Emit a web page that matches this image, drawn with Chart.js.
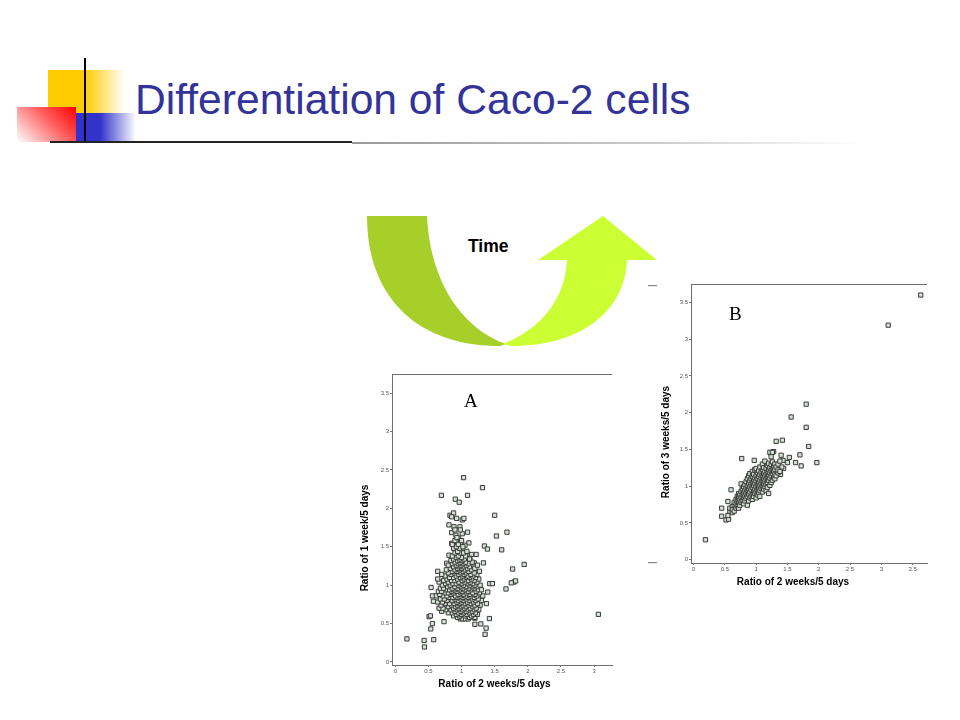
<!DOCTYPE html>
<html>
<head>
<meta charset="utf-8">
<script src="https://cdn.jsdelivr.net/npm/chart.js@4.4.0/dist/chart.umd.min.js"></script>
<style>
  body { margin: 0; background: #fff; }
  #slide { position: relative; width: 960px; height: 720px; overflow: hidden; background: #fff; }
  .abs { position: absolute; }
  #title { left: 135px; top: 75px; font-family: "Liberation Sans", Arial, sans-serif; font-size: 42.6px; color: #333399; white-space: nowrap; }
  #time { left: 468px; top: 236px; font-family: "Liberation Sans", Arial, sans-serif; font-weight: bold; font-size: 17.5px; color: #000; }
  .letter { font-family: "Liberation Serif", "Times New Roman", serif; font-size: 19px; color: #000; }
</style>
</head>
<body>
<div id="slide">
  <!-- decoration top left -->
  <div class="abs" style="left:48px;top:70px;width:77px;height:43px;background:linear-gradient(to right,#ffcc00 0%,#ffcc00 48%,#ffffff 100%);"></div>
  <div class="abs" style="left:17px;top:107px;width:59px;height:35px;background:linear-gradient(225deg,#ff0000 0%,#ff5a5a 40%,#ffffff 100%);"></div>
  <div class="abs" style="left:76px;top:113px;width:60px;height:29px;background:linear-gradient(to right,#3333cc 0%,#3333cc 40%,#ffffff 100%);"></div>
  <div class="abs" style="left:84px;top:58px;width:2px;height:85px;background:#000;"></div>
  <div class="abs" style="left:50px;top:141px;width:302px;height:2px;background:#222;"></div>
  <div class="abs" style="left:352px;top:142px;width:510px;height:2px;background:linear-gradient(to right,#999 0%,#ccc 60%,#fff 100%);"></div>
  <div id="title" class="abs">Differentiation of Caco-2 cells</div>

  <!-- arrow -->
  <svg class="abs" style="left:0;top:0" width="960" height="720">
    <path d="M367,216 L427,216 C430,285 465,330 506,344 L500,346 C420,346 367,300 367,216 Z" fill="#a6cf2a"/>
    <path d="M502,344 C540,330 565,300 567,260 L538,260 L603,216 L657,260 L627,260 C625,312 580,346 512,346 Z" fill="#ccff33"/>
    <rect x="648" y="285" width="9" height="1.2" fill="#888"/>
    <rect x="648" y="562" width="9" height="1.2" fill="#888"/>
  </svg>
  <div id="time" class="abs">Time</div>

  <div class="abs" style="left:355px;top:368px;width:262px;height:330px;"><canvas id="chartA"></canvas></div>
  <div class="abs" style="left:655px;top:278px;width:277px;height:312px;"><canvas id="chartB"></canvas></div>
  <div class="abs letter" style="left:464px;top:390px;">A</div>
  <div class="abs letter" style="left:729px;top:303px;">B</div>
</div>

<script>
// tick labels used by both plots
const tickValues = [0, 0.5, 1, 1.5, 2, 2.5, 3, 3.5];

// Plot A: x = ratio 2 weeks/5 days, y = ratio 1 week/5 days
const outliersA = [
  [0.175, 0.30], [0.435, 0.28], [0.44, 0.195], [0.58, 0.29], [0.535, 0.43], [0.56, 0.50],
  [0.51, 0.59], [0.53, 0.60], [0.56, 0.86], [0.575, 0.79], [0.54, 0.97], [0.64, 1.18],
  [0.735, 0.525], [0.695, 2.17], [1.03, 2.40], [1.315, 2.27], [1.09, 2.17], [0.905, 2.12],
  [0.965, 2.08], [1.50, 1.91], [1.685, 1.69], [1.525, 1.64], [1.605, 1.46], [1.345, 1.51],
  [1.39, 1.47], [1.33, 1.29], [1.945, 1.27], [1.77, 1.21], [1.79, 1.04], [1.75, 1.03],
  [1.815, 1.055], [1.67, 0.95], [1.425, 1.02], [1.465, 1.02], [1.395, 0.91], [1.375, 0.76],
  [1.42, 0.565], [1.29, 0.495], [1.37, 0.44], [1.355, 0.36], [3.065, 0.62], [1.20, 0.49],
  [1.20, 0.57], [1.19, 1.29], [1.22, 1.40], [1.09, 1.69], [1.11, 1.55]
];
const upperA = [
  [0.825, 1.91], [0.88, 1.94], [0.85, 1.89], [0.925, 1.87], [1.01, 1.85], [1.035, 1.87],
  [0.81, 1.785], [0.885, 1.76], [0.975, 1.76], [0.85, 1.685], [0.915, 1.65], [1.01, 1.67],
  [0.955, 1.61], [0.85, 1.545], [0.925, 1.57], [0.99, 1.545], [1.05, 1.52], [0.90, 1.47],
  [0.965, 1.46], [1.015, 1.43], [1.10, 1.40], [1.15, 1.40], [0.81, 1.39], [0.89, 1.37],
  [1.125, 1.35], [0.775, 1.285], [0.875, 1.31]
];
const clusterA = [
  [0.98, 0.56], [1.02, 0.56], [1.06, 0.56], [1.10, 0.56],
  [0.94, 0.58], [1.12, 0.58], [1.20, 0.58],
  [0.88, 0.60], [0.97, 0.60], [1.05, 0.60], [1.15, 0.60],
  [0.92, 0.62], [1.00, 0.62], [1.08, 0.62], [1.18, 0.62], [1.24, 0.62],
  [0.80, 0.64], [0.86, 0.64], [0.95, 0.64], [1.03, 0.64], [1.12, 0.64], [1.21, 0.64],
  [0.70, 0.66], [0.90, 0.66], [0.99, 0.66], [1.07, 0.66], [1.16, 0.66],
  [0.76, 0.68], [0.84, 0.68], [0.93, 0.68], [1.01, 0.68], [1.10, 0.68], [1.19, 0.68], [1.26, 0.68],
  [0.66, 0.70], [0.72, 0.70], [0.88, 0.70], [0.96, 0.70], [1.04, 0.70], [1.13, 0.70], [1.22, 0.70],
  [0.80, 0.72], [0.91, 0.72], [0.99, 0.72], [1.07, 0.72], [1.17, 0.72],
  [0.69, 0.74], [0.85, 0.74], [0.94, 0.74], [1.02, 0.74], [1.11, 0.74], [1.20, 0.74], [1.28, 0.74],
  [0.75, 0.76], [0.82, 0.76], [0.89, 0.76], [0.97, 0.76], [1.05, 0.76], [1.14, 0.76], [1.24, 0.76],
  [0.64, 0.78], [0.71, 0.78], [0.93, 0.78], [1.00, 0.78], [1.09, 0.78], [1.18, 0.78],
  [0.78, 0.80], [0.86, 0.80], [0.95, 0.80], [1.03, 0.80], [1.12, 0.80], [1.21, 0.80], [1.30, 0.80],
  [0.68, 0.82], [0.74, 0.82], [0.90, 0.82], [0.99, 0.82], [1.07, 0.82], [1.16, 0.82], [1.25, 0.82],
  [0.81, 0.84], [0.87, 0.84], [0.94, 0.84], [1.02, 0.84], [1.10, 0.84], [1.19, 0.84],
  [0.62, 0.86], [0.72, 0.86], [0.78, 0.86], [0.91, 0.86], [0.98, 0.86], [1.06, 0.86], [1.14, 0.86], [1.23, 0.86], [1.32, 0.86],
  [0.67, 0.88], [0.84, 0.88], [0.95, 0.88], [1.03, 0.88], [1.12, 0.88], [1.20, 0.88],
  [0.75, 0.90], [0.80, 0.90], [0.88, 0.90], [0.99, 0.90], [1.08, 0.90], [1.17, 0.90], [1.27, 0.90],
  [0.65, 0.92], [0.70, 0.92], [0.85, 0.92], [0.93, 0.92], [1.01, 0.92], [1.10, 0.92], [1.22, 0.92],
  [0.77, 0.94], [0.82, 0.94], [0.89, 0.94], [0.97, 0.94], [1.05, 0.94], [1.14, 0.94], [1.25, 0.94], [1.30, 0.94],
  [0.68, 0.96], [0.73, 0.96], [0.86, 0.96], [0.94, 0.96], [1.02, 0.96], [1.11, 0.96], [1.19, 0.96],
  [0.79, 0.98], [0.90, 0.98], [0.99, 0.98], [1.07, 0.98], [1.16, 0.98], [1.24, 0.98],
  [0.71, 1.00], [0.83, 1.00], [0.95, 1.00], [1.03, 1.00], [1.12, 1.00], [1.20, 1.00], [1.28, 1.00],
  [0.76, 1.02], [0.87, 1.02], [0.92, 1.02], [1.00, 1.02], [1.09, 1.02], [1.17, 1.02],
  [0.66, 1.04], [0.80, 1.04], [0.96, 1.04], [1.05, 1.04], [1.13, 1.04], [1.23, 1.04],
  [0.73, 1.06], [0.85, 1.06], [0.90, 1.06], [1.01, 1.06], [1.10, 1.06], [1.19, 1.06],
  [0.64, 1.08], [0.78, 1.08], [0.94, 1.08], [1.04, 1.08], [1.15, 1.08], [1.26, 1.08],
  [0.82, 1.10], [0.88, 1.10], [0.98, 1.10], [1.07, 1.10], [1.12, 1.10], [1.21, 1.10],
  [0.75, 1.12], [0.92, 1.12], [1.01, 1.12], [1.09, 1.12], [1.17, 1.12],
  [0.70, 1.14], [0.84, 1.14], [0.96, 1.14], [1.04, 1.14], [1.14, 1.14], [1.23, 1.14],
  [0.80, 1.16], [0.89, 1.16], [0.99, 1.16], [1.07, 1.16], [1.19, 1.16],
  [0.86, 1.18], [0.93, 1.18], [1.02, 1.18], [1.11, 1.18], [1.27, 1.18],
  [0.77, 1.20], [0.90, 1.20], [0.97, 1.20], [1.05, 1.20], [1.15, 1.20],
  [0.83, 1.22], [0.94, 1.22], [1.00, 1.22], [1.09, 1.22], [1.20, 1.22],
  [0.88, 1.24], [0.96, 1.24], [1.03, 1.24], [1.12, 1.24],
  [0.80, 1.26], [0.92, 1.26], [0.99, 1.26], [1.07, 1.26], [1.24, 1.26],
  [0.86, 1.28], [0.95, 1.28], [1.02, 1.28], [1.10, 1.28],
  [0.90, 1.30], [0.98, 1.30], [1.06, 1.30], [1.16, 1.30],
  [0.84, 1.32], [0.94, 1.32], [1.01, 1.32],
  [0.88, 1.34], [0.97, 1.34], [1.04, 1.34], [1.12, 1.34],
  [0.92, 1.36], [1.00, 1.36],
  [0.86, 1.38], [0.95, 1.38], [1.06, 1.38],
  [0.90, 1.42], [0.98, 1.42], [1.03, 1.42],
  [0.94, 1.44], [1.08, 1.44],
  [0.88, 1.48], [0.97, 1.48],
  [0.92, 1.50], [1.02, 1.50],
  [0.95, 1.53], [0.86, 1.53],
  [0.90, 1.58], [1.00, 1.58],
  [0.93, 1.62],
  [0.90, 1.72], [0.98, 1.72]
];

// Plot B: x = ratio 2 weeks/5 days, y = ratio 3 weeks/5 days
const outliersB = [
  [3.63, 3.60], [3.11, 3.19], [0.19, 0.27], [0.45, 0.70], [0.45, 0.59], [0.52, 0.54],
  [0.56, 0.55], [0.55, 0.60], [0.55, 0.79], [0.60, 0.95], [0.77, 1.375], [1.80, 2.115],
  [1.56, 1.94], [1.80, 1.80], [1.84, 1.54], [1.97, 1.32], [1.72, 1.275], [1.70, 1.425],
  [1.63, 1.32], [1.53, 1.39], [1.50, 1.32], [1.42, 1.625], [1.32, 1.61], [1.28, 1.47],
  [1.235, 1.45], [1.40, 1.42], [1.43, 1.35], [1.44, 1.24], [1.41, 1.26], [1.38, 1.18],
  [1.39, 1.16], [0.97, 1.35], [0.98, 1.225]
];
const clusterB = [
  [0.58, 0.66], [0.58, 0.70],
  [0.62, 0.64], [0.62, 0.72], [0.62, 0.68],
  [0.65, 0.66], [0.65, 0.74], [0.65, 0.78],
  [0.68, 0.70], [0.68, 0.76], [0.68, 0.82],
  [0.70, 0.73], [0.70, 0.86], [0.70, 0.79],
  [0.72, 0.70], [0.72, 0.77], [0.72, 0.90], [0.72, 0.84],
  [0.74, 0.74], [0.74, 0.81], [0.74, 0.88],
  [0.76, 0.78], [0.76, 0.85], [0.76, 0.93], [0.76, 1.03],
  [0.78, 0.80], [0.78, 0.88], [0.78, 0.96],
  [0.80, 0.76], [0.80, 0.84], [0.80, 0.91], [0.80, 0.99],
  [0.82, 0.80], [0.82, 0.87], [0.82, 0.94], [0.82, 1.02],
  [0.84, 0.83], [0.84, 0.90], [0.84, 0.97], [0.84, 1.06],
  [0.86, 0.74], [0.86, 0.86], [0.86, 0.93], [0.86, 1.00], [0.86, 1.10],
  [0.88, 0.80], [0.88, 0.89], [0.88, 0.96], [0.88, 1.04], [0.88, 1.14],
  [0.90, 0.84], [0.90, 0.92], [0.90, 0.99], [0.90, 1.07], [0.90, 1.17],
  [0.92, 0.86], [0.92, 0.95], [0.92, 1.02], [0.92, 1.10],
  [0.94, 0.82], [0.94, 0.89], [0.94, 0.98], [0.94, 1.05], [0.94, 1.13], [0.94, 1.20],
  [0.96, 0.86], [0.96, 0.93], [0.96, 1.01], [0.96, 1.08], [0.96, 1.16],
  [0.98, 0.90], [0.98, 0.96], [0.98, 1.04], [0.98, 1.11], [0.98, 1.22],
  [1.00, 0.84], [1.00, 0.92], [1.00, 0.99], [1.00, 1.07], [1.00, 1.14], [1.00, 1.24],
  [1.02, 0.88], [1.02, 0.95], [1.02, 1.02], [1.02, 1.10], [1.02, 1.18],
  [1.04, 0.91], [1.04, 0.98], [1.04, 1.05], [1.04, 1.13], [1.04, 1.21],
  [1.06, 0.86], [1.06, 0.94], [1.06, 1.01], [1.06, 1.08], [1.06, 1.16], [1.06, 1.26],
  [1.08, 0.97], [1.08, 1.04], [1.08, 1.11], [1.08, 1.19],
  [1.10, 0.92], [1.10, 1.00], [1.10, 1.07], [1.10, 1.14], [1.10, 1.22], [1.10, 1.30],
  [1.12, 0.96], [1.12, 1.03], [1.12, 1.10], [1.12, 1.17], [1.12, 1.25],
  [1.14, 0.99], [1.14, 1.06], [1.14, 1.13], [1.14, 1.20], [1.14, 1.34],
  [1.16, 0.94], [1.16, 1.02], [1.16, 1.09], [1.16, 1.16], [1.16, 1.24],
  [1.18, 0.98], [1.18, 1.05], [1.18, 1.12], [1.18, 1.19], [1.18, 1.28],
  [1.20, 0.90], [1.20, 1.08], [1.20, 1.15], [1.20, 1.22], [1.20, 1.31],
  [1.22, 1.01], [1.22, 1.11], [1.22, 1.18], [1.22, 1.25], [1.22, 1.46],
  [1.24, 1.05], [1.24, 1.14], [1.24, 1.21], [1.24, 1.29], [1.24, 1.40],
  [1.26, 1.08], [1.26, 1.17], [1.26, 1.24], [1.26, 1.33], [1.26, 1.46],
  [1.28, 1.12], [1.28, 1.20], [1.28, 1.27],
  [1.30, 1.10], [1.30, 1.16], [1.30, 1.23], [1.30, 1.30],
  [1.32, 1.14], [1.32, 1.26],
  [1.35, 1.18], [1.35, 1.22], [1.35, 1.30],
  [1.38, 1.20], [1.38, 1.34]
];

function toPoints(list) {
  return list.map(function (p) { return { x: p[0], y: p[1] }; });
}

// top frame line + axis titles (titles sit off-centre in the picture)
const frameAndTitles = {
  id: "frameAndTitles",
  afterDraw: function (chart, args, opts) {
    const a = chart.chartArea;
    const ctx = chart.ctx;
    ctx.save();
    ctx.strokeStyle = "#6f6f6f";
    ctx.lineWidth = 1;
    ctx.beginPath();
    ctx.moveTo(a.left, a.top + 0.5);
    ctx.lineTo(a.right, a.top + 0.5);
    ctx.stroke();

    ctx.fillStyle = "#000";
    ctx.font = "bold 10px 'Liberation Sans', Arial, sans-serif";
    ctx.textAlign = "center";
    ctx.textBaseline = "middle";
    ctx.fillText(opts.xTitle, (a.left + a.right) / 2 + opts.xDx, a.bottom + opts.xDy);
    ctx.translate(a.left + opts.yDx, (a.top + a.bottom) / 2 + opts.yDy);
    ctx.rotate(-Math.PI / 2);
    ctx.fillText(opts.yTitle, 0, 0);
    ctx.restore();
  },
};

function makeScatter(canvasId, points, o) {
  return new Chart(document.getElementById(canvasId), {
    type: "scatter",
    data: {
      datasets: [
        {
          data: toPoints(points),
          pointStyle: "rect",
          pointRadius: 3,
          pointBorderWidth: 1,
          borderColor: "#3a3a3a",
          backgroundColor: "#d3e3d3",
        },
      ],
    },
    options: {
      responsive: true,
      maintainAspectRatio: false,
      animation: false,
      layout: { padding: { top: o.padTop, right: o.padRight, left: 0, bottom: 0 } },
      plugins: {
        legend: { display: false },
        tooltip: { enabled: false },
        frameAndTitles: o.titles,
      },
      scales: {
        x: {
          type: "linear",
          min: o.xMin,
          max: o.xMax,
          afterBuildTicks: function (scale) {
            scale.ticks = tickValues.filter(function (v) { return v <= o.xMax; }).map(function (v) { return { value: v }; });
          },
          afterFit: function (scale) { scale.height = o.xHeight; },
          grid: { display: true, drawOnChartArea: false, drawTicks: true, tickLength: 2, color: "#777" },
          border: { display: true, color: "#6f6f6f", width: 1 },
          ticks: { font: { size: 6, family: "Liberation Sans" }, color: "#555", padding: 1, maxRotation: 0,
            callback: function (v) { return String(v); } },
        },
        y: {
          type: "linear",
          min: o.yMin,
          max: o.yMax,
          afterBuildTicks: function (scale) {
            scale.ticks = tickValues.map(function (v) { return { value: v }; });
          },
          afterFit: function (scale) { scale.width = o.yWidth; },
          grid: { display: true, drawOnChartArea: false, drawTicks: true, tickLength: 2, color: "#777" },
          border: { display: true, color: "#6f6f6f", width: 1 },
          ticks: { font: { size: 6, family: "Liberation Sans" }, color: "#555", padding: 1,
            callback: function (v) { return String(v); } },
        },
      },
    },
    plugins: [frameAndTitles],
  });
}

makeScatter("chartA", outliersA.concat(upperA, clusterA), {
  xMin: -0.05, xMax: 3.27, yMin: -0.04, yMax: 3.75,
  padTop: 6, padRight: 4, xHeight: 33, yWidth: 37,
  titles: {
    xTitle: "Ratio of 2 weeks/5 days", xDx: -7.5, xDy: 19,
    yTitle: "Ratio of 1 week/5 days", yDx: -27, yDy: 18.5,
  },
});

makeScatter("chartB", outliersB.concat(clusterB), {
  xMin: -0.04, xMax: 3.73, yMin: -0.046, yMax: 3.75,
  padTop: 6, padRight: 4, xHeight: 27, yWidth: 36,
  titles: {
    xTitle: "Ratio of 2 weeks/5 days", xDx: -16, xDy: 19,
    yTitle: "Ratio of 3 weeks/5 days", yDx: -25, yDy: 18.5,
  },
});
</script>
</body>
</html>
